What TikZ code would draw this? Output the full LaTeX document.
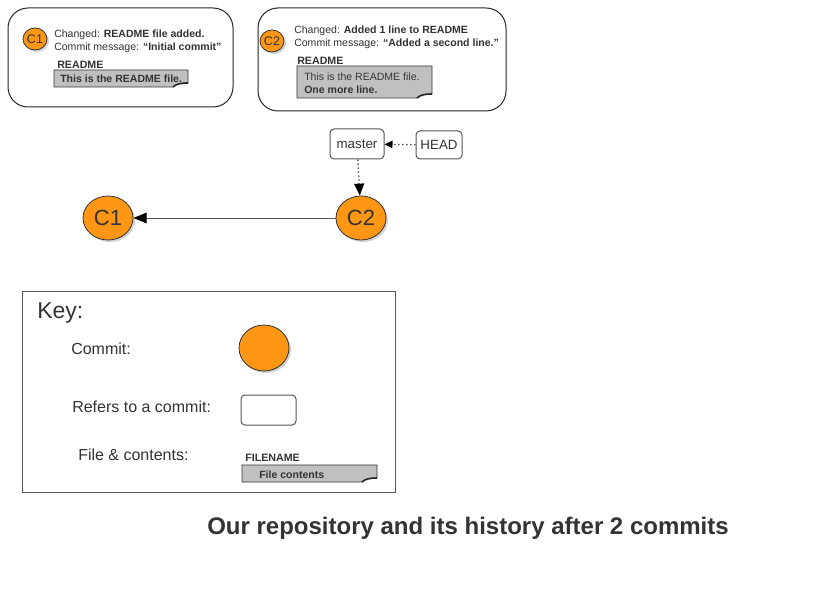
\documentclass[tikz,border=0pt]{standalone}
\usepackage{fontspec}
\setmainfont{Liberation Sans}
\usetikzlibrary{shapes.geometric,arrows.meta,shadows}
\definecolor{commitorange}{RGB}{255,150,20}
\definecolor{filegray}{RGB}{192,192,192}
\definecolor{textgray}{RGB}{51,51,51}
\definecolor{linegray}{RGB}{85,85,85}
\begin{document}
\begin{tikzpicture}[x=0.75pt,y=-0.75pt,
    every node/.style={text=textgray},
    commit/.style={ellipse,draw=black!80,fill=commitorange,line width=0.6pt,inner sep=0pt,
        drop shadow={shadow xshift=1.5pt,shadow yshift=-1.5pt,opacity=0.35}},
    bigcommit/.style={commit,minimum width=37.5pt,minimum height=33pt,font=\fontsize{16.5}{18}\selectfont},
    smallcommit/.style={commit,minimum width=18pt,minimum height=16.5pt,font=\fontsize{9.4}{10}\selectfont},
    ref/.style={draw=linegray,rounded corners=3pt,fill=white,line width=0.75pt,font=\fontsize{10}{12}\selectfont},
    commitbox/.style={draw=black!85,rounded corners=15pt,line width=0.75pt},
    info/.style={align=left,anchor=west,inner sep=0pt,font=\fontsize{7.9}{9.75}\selectfont},
    fname/.style={anchor=west,inner sep=0pt,font=\bfseries\fontsize{8}{9.75}\selectfont},
    filetext/.style={align=left,anchor=west,inner sep=0pt,font=\fontsize{7.9}{9.75}\selectfont},
    file/.style={draw=black!80,fill=filegray,line width=0.6pt},
    fold/.style={draw=black!85,line width=1.2pt},
    keytext/.style={anchor=west,inner sep=0pt,font=\fontsize{12}{14}\selectfont}
]
\fill[white] (0,0) rectangle (816,595);
\useasboundingbox (0,0) rectangle (816,595);

% commit C1
\node[commitbox,minimum width=168.75pt,minimum height=74.25pt] (box1) at (120.5,57.5) {};
\node[smallcommit] (c1small) at (35,39) {C1};
\node[info] (msg1) at (54,41) {Changed: \textbf{README file added.}\\Commit message: \textbf{“Initial commit”}};
\node[fname] (name1) at (57,64.5) {README};
\filldraw[file] (54,70) -- (188,70) -- (188,83) .. controls (181,83) and (176,84) .. (173,87) -- (54,87) -- cycle;
\draw[fold] (173,87) .. controls (176,84) and (181,83) .. (188,83);
\node[filetext] (text1) at (60,79) {\textbf{This is the README file.}};

% commit C2
\node[commitbox,minimum width=186pt,minimum height=77.25pt] (box2) at (382,59.5) {};
\node[smallcommit] (c2small) at (272,41) {C2};
\node[info] (msg2) at (294,37) {Changed: \textbf{Added 1 line to README}\\Commit message: \textbf{“Added a second line.”}};
\node[fname] (name2) at (297,60.5) {README};
\filldraw[file] (297,66) -- (432,66) -- (432,94) .. controls (425,94) and (420,95) .. (417,98) -- (297,98) -- cycle;
\draw[fold] (417,98) .. controls (420,95) and (425,94) .. (432,94);
\node[filetext] (text2) at (304,83) {This is the README file.\\\textbf{One more line.}};

% history
\node[ref,minimum width=40.5pt,minimum height=22.5pt] (master) at (357,144) {master};
\node[ref,minimum width=34.5pt,minimum height=21pt] (head) at (439,145) {HEAD};
\node[bigcommit] (C2) at (361,218) {C2};
\node[bigcommit] (C1) at (108,218) {C1};
\draw[linegray,dotted,line width=1pt,-{Triangle[length=6pt,width=5.5pt,color=black]}] (head) -- (master);
\draw[linegray,dotted,line width=1pt,-{Triangle[length=9pt,width=7.5pt,color=black]}] (master) -- (C2);
\draw[linegray,line width=0.75pt,-{Triangle[length=10pt,width=8pt,color=black]}] (C2) -- (C1);

% key
\node[draw=linegray,line width=0.75pt,minimum width=279.75pt,minimum height=150.75pt] (keybox) at (208.5,391.5) {};
\node[anchor=west,inner sep=0pt,font=\fontsize{17.25}{20}\selectfont] (keytitle) at (37,313) {Key:};
\node[keytext] (keycommit) at (71,349) {Commit:};
\node[commit,minimum width=37.5pt,minimum height=34.5pt] (keycircle) at (264,348) {};
\node[keytext] (keyref) at (72,407) {Refers to a commit:};
\node[ref,minimum width=41.25pt,minimum height=22.5pt] (keyrect) at (268.5,410) {};
\node[keytext] (keyfile) at (78,455) {File \& contents:};
\node[fname] (keyname) at (245,457.5) {FILENAME};
\filldraw[file] (242,465) -- (377,465) -- (377,478) .. controls (370,478) and (365,479) .. (362,482) -- (242,482) -- cycle;
\draw[fold] (362,482) .. controls (365,479) and (370,478) .. (377,478);
\node[filetext] (keycontents) at (259,474.5) {\textbf{File contents}};

\node[font=\bfseries\fontsize{18}{21}\selectfont] (title) at (468,528) {Our repository and its history after 2 commits};
\end{tikzpicture}
\end{document}
